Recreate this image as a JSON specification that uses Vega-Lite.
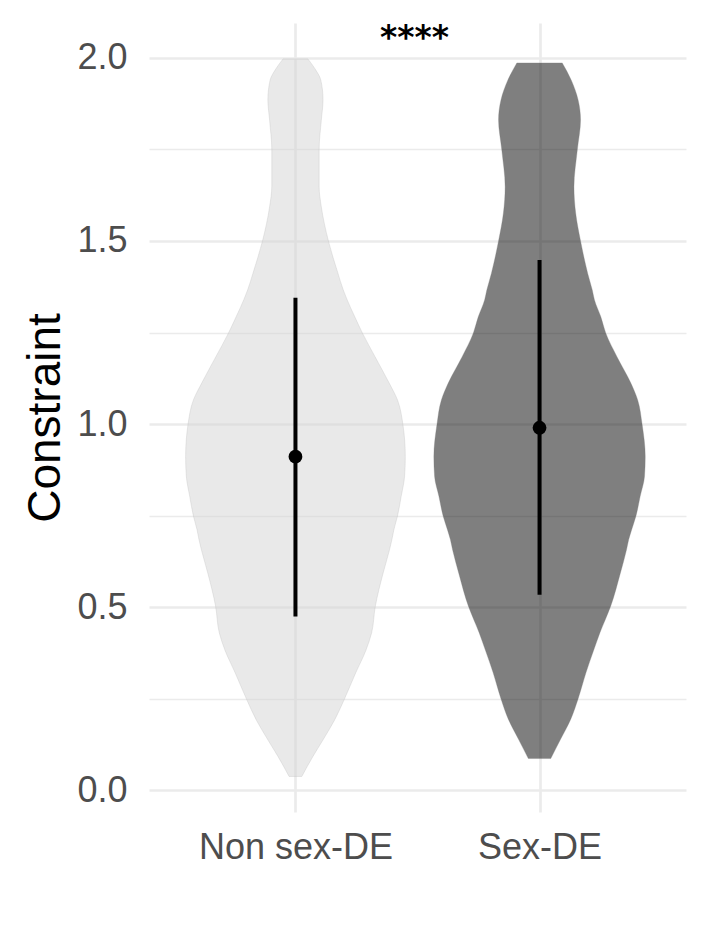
{
  "$schema": "https://vega.github.io/schema/vega-lite/v6.json",
  "width": 537,
  "height": 789,
  "autosize": {"type": "none"},
  "padding": {"left": 149, "top": 23, "right": 22, "bottom": 132},
  "background": "white",
  "config": {
    "view": {"stroke": null},
    "font": "Liberation Sans",
    "axis": {"domain": false, "ticks": false, "tickSize": 0, "gridColor": "#EBEBEB", "labelLimit": 0}
  },
  "datasets": {
    "violin": [
      {"group": "Non sex-DE", "constraint": 1.997, "density": 0.051},
      {"group": "Non sex-DE", "constraint": 1.97, "density": 0.08},
      {"group": "Non sex-DE", "constraint": 1.939, "density": 0.104},
      {"group": "Non sex-DE", "constraint": 1.885, "density": 0.113},
      {"group": "Non sex-DE", "constraint": 1.83, "density": 0.106},
      {"group": "Non sex-DE", "constraint": 1.75, "density": 0.097},
      {"group": "Non sex-DE", "constraint": 1.648, "density": 0.097},
      {"group": "Non sex-DE", "constraint": 1.593, "density": 0.106},
      {"group": "Non sex-DE", "constraint": 1.5, "density": 0.135},
      {"group": "Non sex-DE", "constraint": 1.412, "density": 0.174},
      {"group": "Non sex-DE", "constraint": 1.366, "density": 0.196},
      {"group": "Non sex-DE", "constraint": 1.339, "density": 0.212},
      {"group": "Non sex-DE", "constraint": 1.293, "density": 0.243},
      {"group": "Non sex-DE", "constraint": 1.249, "density": 0.274},
      {"group": "Non sex-DE", "constraint": 1.184, "density": 0.326},
      {"group": "Non sex-DE", "constraint": 1.112, "density": 0.384},
      {"group": "Non sex-DE", "constraint": 1.066, "density": 0.418},
      {"group": "Non sex-DE", "constraint": 1.0, "density": 0.44},
      {"group": "Non sex-DE", "constraint": 0.911, "density": 0.45},
      {"group": "Non sex-DE", "constraint": 0.857, "density": 0.447},
      {"group": "Non sex-DE", "constraint": 0.802, "density": 0.433},
      {"group": "Non sex-DE", "constraint": 0.749, "density": 0.418},
      {"group": "Non sex-DE", "constraint": 0.711, "density": 0.403},
      {"group": "Non sex-DE", "constraint": 0.684, "density": 0.395},
      {"group": "Non sex-DE", "constraint": 0.656, "density": 0.385},
      {"group": "Non sex-DE", "constraint": 0.593, "density": 0.359},
      {"group": "Non sex-DE", "constraint": 0.502, "density": 0.327},
      {"group": "Non sex-DE", "constraint": 0.43, "density": 0.312},
      {"group": "Non sex-DE", "constraint": 0.383, "density": 0.289},
      {"group": "Non sex-DE", "constraint": 0.321, "density": 0.247},
      {"group": "Non sex-DE", "constraint": 0.25, "density": 0.201},
      {"group": "Non sex-DE", "constraint": 0.193, "density": 0.161},
      {"group": "Non sex-DE", "constraint": 0.138, "density": 0.113},
      {"group": "Non sex-DE", "constraint": 0.092, "density": 0.071},
      {"group": "Non sex-DE", "constraint": 0.038, "density": 0.026},
      {"group": "Sex-DE", "constraint": 1.986, "density": 0.093},
      {"group": "Sex-DE", "constraint": 1.939, "density": 0.13},
      {"group": "Sex-DE", "constraint": 1.885, "density": 0.158},
      {"group": "Sex-DE", "constraint": 1.83, "density": 0.168},
      {"group": "Sex-DE", "constraint": 1.75, "density": 0.155},
      {"group": "Sex-DE", "constraint": 1.648, "density": 0.141},
      {"group": "Sex-DE", "constraint": 1.576, "density": 0.148},
      {"group": "Sex-DE", "constraint": 1.5, "density": 0.168},
      {"group": "Sex-DE", "constraint": 1.412, "density": 0.197},
      {"group": "Sex-DE", "constraint": 1.366, "density": 0.216},
      {"group": "Sex-DE", "constraint": 1.339, "density": 0.225},
      {"group": "Sex-DE", "constraint": 1.293, "density": 0.251},
      {"group": "Sex-DE", "constraint": 1.249, "density": 0.271},
      {"group": "Sex-DE", "constraint": 1.184, "density": 0.317},
      {"group": "Sex-DE", "constraint": 1.112, "density": 0.374},
      {"group": "Sex-DE", "constraint": 1.066, "density": 0.402},
      {"group": "Sex-DE", "constraint": 1.0, "density": 0.42},
      {"group": "Sex-DE", "constraint": 0.911, "density": 0.433},
      {"group": "Sex-DE", "constraint": 0.857, "density": 0.43},
      {"group": "Sex-DE", "constraint": 0.802, "density": 0.412},
      {"group": "Sex-DE", "constraint": 0.749, "density": 0.395},
      {"group": "Sex-DE", "constraint": 0.711, "density": 0.377},
      {"group": "Sex-DE", "constraint": 0.684, "density": 0.365},
      {"group": "Sex-DE", "constraint": 0.656, "density": 0.356},
      {"group": "Sex-DE", "constraint": 0.593, "density": 0.331},
      {"group": "Sex-DE", "constraint": 0.502, "density": 0.291},
      {"group": "Sex-DE", "constraint": 0.43, "density": 0.247},
      {"group": "Sex-DE", "constraint": 0.383, "density": 0.222},
      {"group": "Sex-DE", "constraint": 0.321, "density": 0.19},
      {"group": "Sex-DE", "constraint": 0.25, "density": 0.158},
      {"group": "Sex-DE", "constraint": 0.193, "density": 0.127},
      {"group": "Sex-DE", "constraint": 0.138, "density": 0.085},
      {"group": "Sex-DE", "constraint": 0.087, "density": 0.046}
    ],
    "stats": [
      {"group": "Non sex-DE", "mean": 0.911, "lower": 0.475, "upper": 1.345},
      {"group": "Sex-DE", "mean": 0.99, "lower": 0.534, "upper": 1.448}
    ],
    "annot": [
      {"label": "****", "xpos": 1.5, "ypos": 2.0}
    ]
  },
  "resolve": {"axis": {"y": "independent"}},
  "layer": [
    {
      "data": {"name": "violin"},
      "transform": [
        {"calculate": "datum.group === 'Non sex-DE' ? 1 : 2", "as": "center"},
        {"calculate": "datum.center - datum.density", "as": "lo"},
        {"calculate": "datum.center + datum.density", "as": "hi"}
      ],
      "mark": {"type": "area", "orient": "horizontal", "interpolate": "monotone", "fillOpacity": 0.5, "strokeOpacity": 0.5, "strokeWidth": 0.6},
      "encoding": {
        "y": {
          "field": "constraint", "type": "quantitative",
          "scale": {"domain": [-0.059, 2.095], "nice": false, "zero": false},
          "axis": {
            "orient": "left",
            "values": [0, 0.5, 1, 1.5, 2], "format": ".1f",
            "grid": true, "gridWidth": 2.7,
            "labelFontSize": 36, "labelColor": "#4D4D4D", "labelPadding": 22,
            "title": "Constraint", "titleFontSize": 46, "titleFontWeight": "normal", "titleColor": "#000000", "titlePadding": 7
          }
        },
        "x": {
          "field": "lo", "type": "quantitative",
          "scale": {"domain": [0.4, 2.6], "nice": false, "zero": false},
          "axis": {
            "values": [1, 2], "labelExpr": "datum.value == 1 ? 'Non sex-DE' : 'Sex-DE'",
            "grid": true, "gridWidth": 2.7,
            "labelFontSize": 36, "labelColor": "#4D4D4D", "labelPadding": 18, "title": null
          }
        },
        "x2": {"field": "hi"},
        "fill": {"field": "group", "type": "nominal", "scale": {"domain": ["Non sex-DE", "Sex-DE"], "range": ["#D3D3D3", "#000000"]}, "legend": null},
        "stroke": {"field": "group", "type": "nominal", "scale": {"domain": ["Non sex-DE", "Sex-DE"], "range": ["#B8B8B8", "#7A7A7A"]}, "legend": null}
      }
    },
    {
      "data": {"name": "stats"},
      "transform": [
        {"calculate": "datum.group === 'Non sex-DE' ? 1 : 2", "as": "center"}
      ],
      "mark": {"type": "rule", "color": "#000000", "strokeWidth": 4},
      "encoding": {
        "x": {"field": "center", "type": "quantitative", "axis": {"values": [1, 2], "labelExpr": "datum.value == 1 ? 'Non sex-DE' : 'Sex-DE'", "grid": true, "gridWidth": 2.7, "labelFontSize": 36, "labelColor": "#4D4D4D", "labelPadding": 18, "title": null}},
        "y": {
          "field": "lower", "type": "quantitative",
          "axis": {"orient": "left", "values": [0.25, 0.75, 1.25, 1.75], "grid": true, "gridWidth": 1.6, "labels": false, "title": null}
        },
        "y2": {"field": "upper"}
      }
    },
    {
      "data": {"name": "stats"},
      "transform": [
        {"calculate": "datum.group === 'Non sex-DE' ? 1 : 2", "as": "center"}
      ],
      "mark": {"type": "point", "shape": "circle", "filled": true, "color": "#000000", "opacity": 1, "size": 190},
      "encoding": {
        "x": {"field": "center", "type": "quantitative", "axis": {"values": [1, 2], "labelExpr": "datum.value == 1 ? 'Non sex-DE' : 'Sex-DE'", "grid": true, "gridWidth": 2.7, "labelFontSize": 36, "labelColor": "#4D4D4D", "labelPadding": 18, "title": null}},
        "y": {"field": "mean", "type": "quantitative", "axis": null}
      }
    },
    {
      "data": {"name": "annot"},
      "mark": {"type": "text", "font": "DejaVu Sans", "fontWeight": "bold", "fontSize": 33, "baseline": "alphabetic", "align": "center", "color": "#000000", "dy": -9, "dx": -3},
      "encoding": {
        "x": {"field": "xpos", "type": "quantitative", "axis": {"values": [1, 2], "labelExpr": "datum.value == 1 ? 'Non sex-DE' : 'Sex-DE'", "grid": true, "gridWidth": 2.7, "labelFontSize": 36, "labelColor": "#4D4D4D", "labelPadding": 18, "title": null}},
        "y": {"field": "ypos", "type": "quantitative", "axis": null},
        "text": {"field": "label"}
      }
    }
  ]
}
